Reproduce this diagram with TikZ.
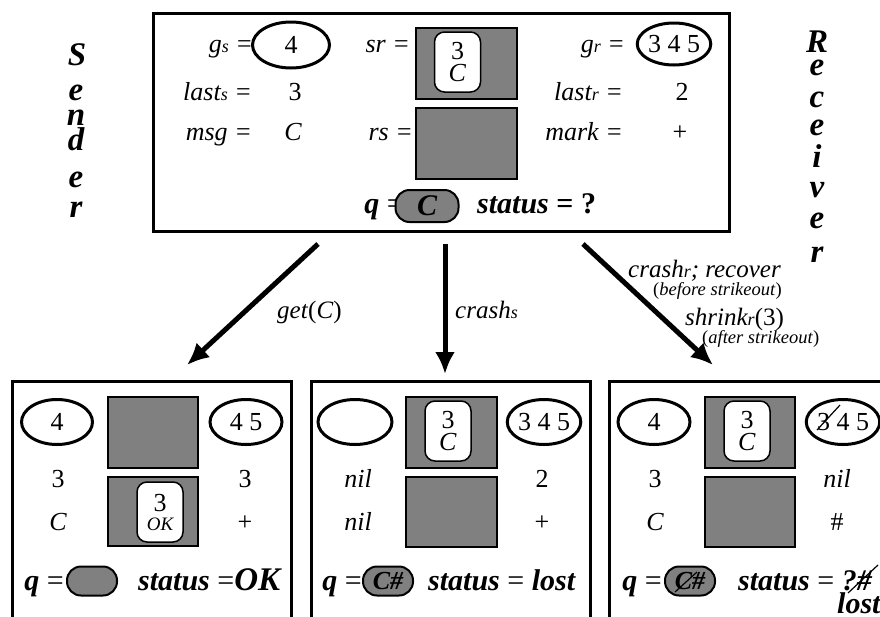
\documentclass[tikz,border=0pt]{standalone}
\usepackage{fontspec}
\setmainfont{Liberation Serif}
\usetikzlibrary{arrows.meta,shapes.geometric}
\definecolor{midgray}{RGB}{128,128,128}
\newcommand\smallsub[1]{{\fontsize{18}{18}\selectfont #1}}
\tikzset{
  txt/.style={inner sep=0pt, font=\fontsize{26}{22}\selectfont},
  itxt/.style={inner sep=0pt, font=\fontsize{26}{22}\selectfont\itshape},
  btxt/.style={inner sep=0pt, font=\fontsize{30}{30}\selectfont\bfseries\itshape},
  letter/.style={inner sep=0pt, font=\fontsize{33}{33}\selectfont\bfseries\itshape},
  lbl/.style={inner sep=0pt, font=\fontsize{25}{25}\selectfont\itshape},
  note/.style={inner sep=0pt, font=\fontsize{18.5}{18}\selectfont\itshape},
  frame/.style={draw, line width=2.5pt, inner sep=0pt, anchor=north west},
  oval/.style={draw, ellipse, line width=3pt, minimum width=72pt, minimum height=45pt, inner sep=0pt, font=\fontsize{26}{22}\selectfont},
  greybox/.style={draw, fill=midgray, line width=1.5pt, inner sep=0pt, anchor=north west},
  msgbox/.style={draw, fill=white, rounded corners=10pt, line width=1.5pt, minimum width=46pt, minimum height=60pt, inner sep=0pt, align=center, font=\fontsize{26}{22}\selectfont},
  pill/.style={draw, fill=midgray, rounded corners=14pt, line width=2pt, minimum width=50pt, minimum height=29pt, inner sep=0pt, font=\fontsize{26}{26}\selectfont\bfseries\itshape},
  bigarrow/.style={line width=5pt, -{Latex[length=22pt,width=20pt]}},
  strike/.style={line width=1.2pt}
}
\begin{document}
\begin{tikzpicture}[x=1pt,y=-1pt]
\clip (0,0) rectangle (880,616);
\fill[white] (0,0) rectangle (880,616);

% ---------- top state ----------
\node[frame, minimum width=576pt, minimum height=218pt] (top) at (152,12) {};
\node[itxt, anchor=base east] (gsl) at (253,52) {g\smallsub{s} =};
\node[oval, minimum width=77pt, minimum height=46pt] (gsv) at (291,45) {4};
\node[itxt, anchor=base east] (srl) at (410,52) {sr =};
\node[greybox, minimum width=101pt, minimum height=71pt] (srbox) at (415,27) {};
\node[msgbox] (srmsg) at (457.5,62) {3\\\textit{C}};
\node[itxt, anchor=base east] (lsl) at (252,100) {last\smallsub{s} =};
\node[txt, anchor=base] (lsv) at (295,100) {3};
\node[itxt, anchor=base east] (msgl) at (252,140) {msg =};
\node[itxt, anchor=base] (msgv) at (293,140) {C};
\node[itxt, anchor=base east] (rsl) at (413,140) {rs =};
\node[greybox, minimum width=101pt, minimum height=71pt] (rsbox) at (415,107) {};
\node[itxt, anchor=base east] (grl) at (625,52) {g\smallsub{r} =};
\node[oval, minimum height=42pt] (grv) at (674,44) {3 4 5};
\node[itxt, anchor=base east] (lrl) at (623,100) {last\smallsub{r} =};
\node[txt, anchor=base] (lrv) at (682,100) {2};
\node[itxt, anchor=base east] (mkl) at (623,140) {mark =};
\node[txt, anchor=base] (mkv) at (680,140) {+};
\node[btxt, anchor=base east] (ql) at (404,213) {q \textup{\mdseries=}};
\node[pill, minimum width=63pt, minimum height=32pt, font=\fontsize{30}{30}\selectfont\bfseries\itshape] (qv) at (427,206) {C};
\node[btxt, anchor=base west] (stl) at (477,213) {status \textup{= ?}};

% ---------- sender / receiver ----------
\node[letter, anchor=base] (s1) at (77,65) {S};
\node[letter, anchor=base] (s2) at (76,100) {e};
\node[letter, anchor=base] (s3) at (76,125) {n};
\node[letter, anchor=base] (s4) at (76,150) {d};
\node[letter, anchor=base] (s5) at (76,187) {e};
\node[letter, anchor=base] (s6) at (76,217) {r};
\node[letter, anchor=base] (r1) at (817,52) {R};
\node[letter, anchor=base] (r2) at (817,75) {e};
\node[letter, anchor=base] (r3) at (817,107) {c};
\node[letter, anchor=base] (r4) at (817,135) {e};
\node[letter, anchor=base] (r5) at (817,167) {i};
\node[letter, anchor=base] (r6) at (817,197) {v};
\node[letter, anchor=base] (r7) at (817,228) {e};
\node[letter, anchor=base] (r8) at (817,262) {r};

% ---------- arrows ----------
\coordinate (a1s) at (318,244); \coordinate (a1e) at (187,365);
\coordinate (a2s) at (445,244); \coordinate (a2e) at (445,374);
\coordinate (a3s) at (583,244); \coordinate (a3e) at (713,365);
\draw[bigarrow] (a1s) -- (a1e);
\draw[bigarrow] (a2s) -- (a2e);
\draw[bigarrow] (a3s) -- (a3e);
\node[lbl, anchor=base west] (l1) at (277,318) {get\textup{(}C\textup{)}};
\node[lbl, anchor=base west] (l2) at (455,318) {crash\smallsub{s}};
\node[lbl, anchor=base west] (l3) at (628,277) {crash\smallsub{r}; recover};
\node[note, anchor=base west] (l3n) at (653,295) {\textup{(}before strikeout\textup{)}};
\node[lbl, anchor=base west] (l4) at (685,325) {shrink\smallsub{r}\textup{(3)}};
\node[note, anchor=base west] (l4n) at (702,343) {\textup{(}after strikeout\textup{)}};

% ---------- box 1: get(C) ----------
\node[frame, minimum width=279pt, minimum height=250pt] (b1) at (11,380) {};
\node[oval, minimum width=71pt] (b1gs) at (57,422) {4};
\node[greybox, minimum width=90pt, minimum height=71pt] (b1sr) at (107,396) {};
\node[oval] (b1gr) at (246,422) {4 5};
\node[txt, anchor=base] (b1ls) at (58,487) {3};
\node[itxt, anchor=base] (b1msg) at (58,530) {C};
\node[greybox, minimum width=90pt, minimum height=69pt] (b1rs) at (107,476) {};
\node[msgbox] (b1m) at (160,512) {3\\[-3pt]{\fontsize{19}{19}\selectfont\itshape OK}};
\node[txt, anchor=base] (b1lr) at (245,487) {3};
\node[txt, anchor=base] (b1mk) at (245,530) {+};
\node[btxt, anchor=base east] (b1q) at (64,590) {q \textup{\mdseries=}};
\node[pill] (b1qv) at (92,581) {};
\node[btxt, anchor=base west] (b1st) at (138,590) {status \textup{\mdseries=}{\fontsize{33}{33}\selectfont OK}};

% ---------- box 2: crash_s ----------
\node[frame, minimum width=279pt, minimum height=250pt] (b2) at (310,380) {};
\node[oval, minimum width=74pt] (b2gs) at (355,422) {};
\node[greybox, minimum width=91pt, minimum height=71pt] (b2sr) at (405,396) {};
\node[msgbox] (b2m) at (448,431) {3\\\textit{C}};
\node[oval] (b2gr) at (544,422) {3 4 5};
\node[itxt, anchor=base] (b2ls) at (358,487) {nil};
\node[itxt, anchor=base] (b2msg) at (358,530) {nil};
\node[greybox, minimum width=91pt, minimum height=70pt] (b2rs) at (405,476) {};
\node[txt, anchor=base] (b2lr) at (542,487) {2};
\node[txt, anchor=base] (b2mk) at (542,530) {+};
\node[btxt, anchor=base east] (b2q) at (362,590) {q \textup{\mdseries=}};
\node[pill] (b2qv) at (388,581) {C\#};
\node[btxt, anchor=base west] (b2st) at (428,590) {status \textup{\mdseries=} lost};

% ---------- box 3: crash_r; recover / shrink_r(3) ----------
\node[frame, minimum width=280pt, minimum height=250pt] (b3) at (608,380) {};
\node[oval] (b3gs) at (654,422) {4};
\node[greybox, minimum width=90pt, minimum height=71pt] (b3sr) at (704,396) {};
\node[msgbox] (b3m) at (747,431) {3\\\textit{C}};
\node[oval, minimum width=70pt] (b3gr) at (843,422) {3 4 5};
\node[txt, anchor=base] (b3ls) at (655,487) {3};
\node[itxt, anchor=base] (b3msg) at (655,530) {C};
\node[greybox, minimum width=90pt, minimum height=70pt] (b3rs) at (704,476) {};
\node[itxt, anchor=base] (b3lr) at (837,487) {nil};
\node[txt, anchor=base] (b3mk) at (837,530) {\#};
\node[btxt, anchor=base east] (b3q) at (662,590) {q \textup{\mdseries=}};
\node[pill] (b3qv) at (690,581) {C\#};
\node[btxt, anchor=base west] (b3st) at (738,590) {status \textup{\mdseries=} ?\#};
\node[btxt, anchor=base west] (b3lost) at (837,613) {lost};
\draw[strike] (817,430) -- (840,405);
\draw[strike] (675,592) -- (697,572);
\draw[strike] (848,593) -- (878,565);
\end{tikzpicture}
\end{document}
